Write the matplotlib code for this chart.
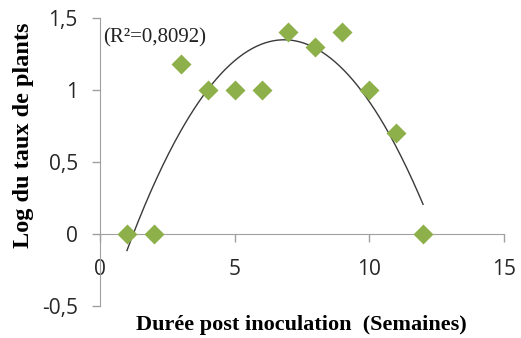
import matplotlib.pyplot as plt
import numpy as np

# data
semaines = [1, 2, 3, 4, 5, 6, 7, 8, 9, 10, 11, 12]
log_taux = [0, 0, 1.18, 1, 1, 1, 1.4, 1.3, 1.4, 1, 0.7, 0]
r2_label = "(R²=0,8092)"

# polynomial trend line (order 2) fitted on the points
coef = np.polyfit(semaines, log_taux, 2)
xs = np.linspace(min(semaines), max(semaines), 200)
ys = np.polyval(coef, xs)

fig = plt.figure(figsize=(5.21, 3.38), dpi=100)
ax = fig.add_axes([0.192, 0.095, 0.775, 0.852])

ax.plot(xs, ys, color="#3a3a3a", lw=1.0, zorder=2)
ax.plot(semaines, log_taux, "D", color="#8db04a", ms=10, mec="none", zorder=3)

ax.set_xlim(0, 15)
ax.set_ylim(-0.5, 1.5)

for s in ["top", "right"]:
    ax.spines[s].set_visible(False)
ax.spines["bottom"].set_position(("data", 0))
ax.spines["bottom"].set_color("#a0a0a0")
ax.spines["left"].set_color("#a0a0a0")

ax.set_xticks([0, 5, 10, 15])
ax.set_yticks([-0.5, 0, 0.5, 1, 1.5])
ax.set_yticklabels(["-0,5", "0", "0,5", "1", "1,5"])
ax.tick_params(colors="#a0a0a0", length=6, width=1, labelcolor="#262626",
               labelsize=15)
ax.tick_params(axis="x", pad=12)
ax.tick_params(axis="y", pad=10)
for lab in ax.get_xticklabels() + ax.get_yticklabels():
    lab.set_family("Open Sans")

ax.text(0.1, 1.36, r2_label, family="Liberation Serif", fontsize=15,
        color="#222222", va="center")

fig.text(0.578, 0.038, "Durée post inoculation  (Semaines)", family="Liberation Serif",
         fontweight="bold", fontsize=16, ha="center", va="center")
fig.text(0.045, 0.60, "Log du taux de plants", family="Liberation Serif",
         fontweight="bold", fontsize=17.5, ha="center", va="center", rotation=90)

fig.savefig("out.png", dpi=100)
